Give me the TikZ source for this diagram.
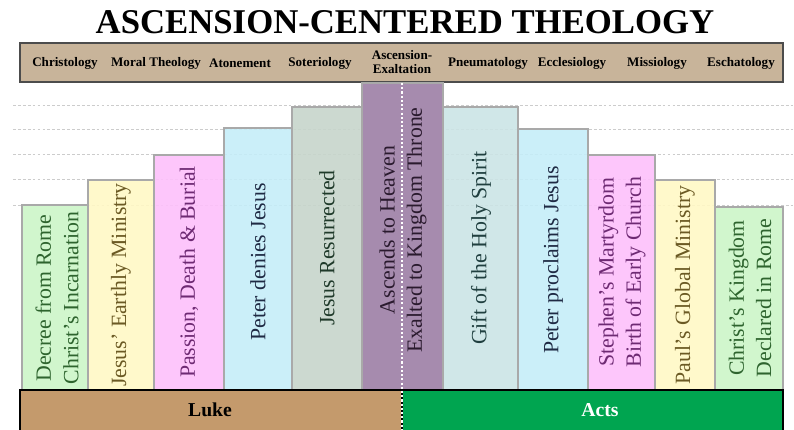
\documentclass[tikz,border=0pt]{standalone}
\usepackage{fontspec}
\setmainfont{Liberation Serif}

\definecolor{bar}{HTML}{C8B49A}
\definecolor{luke}{HTML}{C49A6C}
\definecolor{acts}{HTML}{00A550}
\definecolor{kant}{HTML}{A9A9A9}
\definecolor{gronn}{HTML}{CCF5C8}
\definecolor{gul}{HTML}{FFF8C5}
\definecolor{rosa}{HTML}{FDC0FB}
\definecolor{bla}{HTML}{C5EDF8}
\definecolor{gra}{HTML}{C7D5CB}
\definecolor{lilla}{HTML}{A68BAE}
\definecolor{turkis}{HTML}{CBE4E5}
\definecolor{tgronn}{HTML}{2E642E}
\definecolor{tgul}{HTML}{6B5A24}
\definecolor{trosa}{HTML}{6E2A73}
\definecolor{tbla}{HTML}{1F2A44}
\definecolor{tgra}{HTML}{1F3A2A}
\definecolor{tlilla}{HTML}{2A1A2E}
\definecolor{tturkis}{HTML}{1F3F3F}

\tikzset{
  head/.style={font=\bfseries\fontsize{9.3}{10.5}\selectfont, align=center},
  soyle/.style={draw=kant, line width=1.5pt, fill opacity=0.9},
  soyletekst/.style={rotate=90, align=center, font=\fontsize{15.5}{19.5}\selectfont},
  hjelp/.style={gray!40, line width=0.6pt, dash pattern=on 2pt off 1.5pt}
}

\begin{document}
\begin{tikzpicture}[x=0.025cm,y=-0.025cm]
    \useasboundingbox (0,0) rectangle (794,429);

    %Tittel
        \node[font=\bfseries\fontsize{24.7}{28}\selectfont] (tittel) at (405,22) {ASCENSION-CENTERED THEOLOGY};

    %Overskrift
        \draw[fill=bar, draw=black!70, line width=0.8pt] (20,43) rectangle (783,82);
        \node[head] (h1) at (65,63) {Christology};
        \node[head] (h2) at (156,63) {Moral Theology};
        \node[head] (h3) at (240,63) {Atonement};
        \node[head] (h4) at (320,63) {Soteriology};
        \node[head] (h5) at (402,62) {Ascension-\\Exaltation};
        \node[head] (h6) at (488,63) {Pneumatology};
        \node[head] (h7) at (572,63) {Ecclesiology};
        \node[head] (h8) at (657,63) {Missiology};
        \node[head] (h9) at (741,63) {Eschatology};

    %Hjelpelinjer
        \draw[hjelp] (13,105)--(794,105);
        \draw[hjelp] (13,129)--(794,129);
        \draw[hjelp] (13,154)--(794,154);
        \draw[hjelp] (13,179)--(794,179);
        \draw[hjelp] (13,205)--(794,205);

    %Soyler
        \filldraw[soyle, fill=gronn] (22,205) rectangle (88,390);
        \filldraw[soyle, fill=gul] (88,180) rectangle (154,390);
        \filldraw[soyle, fill=rosa] (154,155) rectangle (224,390);
        \filldraw[soyle, fill=bla] (224,128) rectangle (292,390);
        \filldraw[soyle, fill=gra] (292,107) rectangle (362,390);
        \filldraw[soyle, fill=lilla, fill opacity=1] (362,83) rectangle (443,390);
        \filldraw[soyle, fill=turkis] (443,107) rectangle (518,390);
        \filldraw[soyle, fill=bla] (518,129) rectangle (588,390);
        \filldraw[soyle, fill=rosa] (588,155) rectangle (655,390);
        \filldraw[soyle, fill=gul] (655,180) rectangle (715,390);
        \filldraw[soyle, fill=gronn] (715,207) rectangle (783,390);
        %
        \node[soyletekst, text=tgronn] (s1) at (57,298) {Decree from Rome\\Christ's Incarnation};
        \node[soyletekst, text=tgul] (s2) at (121,285) {Jesus' Earthly Ministry};
        \node[soyletekst, text=trosa] (s3) at (189,272) {Passion, Death \& Burial};
        \node[soyletekst, text=tbla] (s4) at (258,262) {Peter denies Jesus};
        \node[soyletekst, text=tgra] (s5) at (327,248) {Jesus Resurrected};
        \node[soyletekst, text=tlilla] (s6) at (403,230) {Ascends to Heaven\\Exalted to Kingdom Throne};
        \node[soyletekst, text=tturkis] (s7) at (481,248) {Gift of the Holy Spirit};
        \node[soyletekst, text=tbla] (s8) at (553,260) {Peter proclaims Jesus};
        \node[soyletekst, text=trosa] (s9) at (622,272) {Stephen's Martyrdom\\Birth of Early Church};
        \node[soyletekst, text=tgul] (s10) at (685,285) {Paul's Global Ministry};
        \node[soyletekst, text=tgronn] (s11) at (750,298) {Christ's Kingdom\\Declared in Rome};

    %Bunn
        \filldraw[fill=luke, draw=black, line width=1pt] (20,390) rectangle (402,432);
        \filldraw[fill=acts, draw=black, line width=1pt] (402,390) rectangle (783,432);
        \draw[line width=2pt] (20,390)--(783,390);
        \node[font=\bfseries\fontsize{14}{16}\selectfont] (luke) at (210,410) {Luke};
        \node[font=\bfseries\fontsize{14}{16}\selectfont, text=white] (acts) at (600,410) {Acts};

    %Skillelinje
        \draw[white, line width=1.3pt, dash pattern=on 1.5pt off 1.5pt] (402,83)--(402,429);

\end{tikzpicture}
\end{document}
